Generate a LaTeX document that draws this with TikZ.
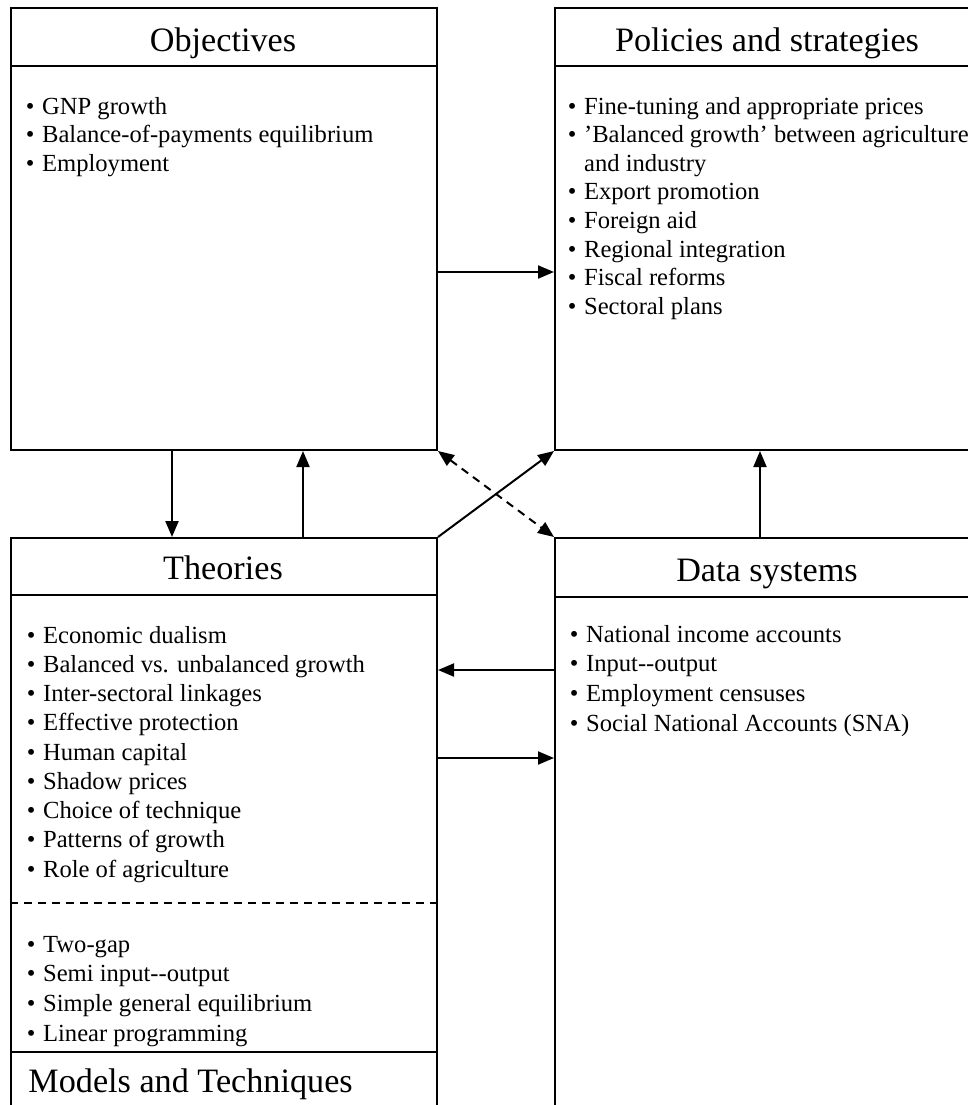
\documentclass[tikz,border=0pt]{standalone}
\usepackage{fontspec}
\setmainfont{Liberation Serif}
\usetikzlibrary{arrows.meta}
\newcommand{\itm}{\makebox[0.66em][l]{\textbullet}}
\tikzset{
  box/.style={draw, line width=1pt, rectangle, inner sep=0pt, anchor=north west},
  heading/.style={font=\fontsize{17.1}{20}\selectfont, inner sep=0pt, anchor=base},
  item/.style={font=\fontsize{12.3}{14.6}\selectfont, inner sep=0pt, anchor=base west},
  sep/.style={line width=1pt},
  link/.style={line width=1pt, -{Triangle[length=8pt,width=6.5pt]}},
}
\begin{document}
\begin{tikzpicture}[x=0.5pt,y=-0.5pt]
	\useasboundingbox (0,0) rectangle (968,1105);
	\clip (0,0) rectangle (968,1105);
	% the four boxes
	\node[box, minimum width=213pt, minimum height=221pt] (obj) at (10,7) {};
	\node[box, minimum width=213pt, minimum height=221pt] (pol) at (554,7) {};
	\node[box, minimum width=213pt, minimum height=332pt] (theo) at (10,537) {};
	\node[box, minimum width=213pt, minimum height=332pt] (data) at (554,537) {};
	\draw[sep] ([yshift=-29.5pt]obj.north west) -- ([yshift=-29.5pt]obj.north east);
	\draw[sep] ([yshift=-29.5pt]pol.north west) -- ([yshift=-29.5pt]pol.north east);
	\draw[sep] ([yshift=-29pt]theo.north west) -- ([yshift=-29pt]theo.north east);
	\draw[sep] ([yshift=-30pt]data.north west) -- ([yshift=-30pt]data.north east);
	\draw[sep, dash pattern=on 4pt off 3pt] ([yshift=-183pt]theo.north west) -- ([yshift=-183pt]theo.north east);
	\draw[sep] ([yshift=-257.5pt]theo.north west) -- ([yshift=-257.5pt]theo.north east);
	% titles
	\node[heading] (objT) at (223,51) {Objectives};
	\node[heading] (polT) at (767,51) {Policies and strategies};
	\node[heading] (theoT) at (223,579) {Theories};
	\node[heading] (dataT) at (767,581) {Data systems};
	\node[heading, anchor=base west] (modT) at (28,1092) {Models and Techniques};
	% lists
	\foreach \t [count=\i] in {\itm GNP growth, \itm Balance-of-payments equilibrium, \itm Employment}
		\node[item] (obj-\i) at (25.5,{114+28.6*(\i-1)}) {\t};
	\foreach \t [count=\i] in {\itm Fine-tuning and appropriate prices, \itm 'Balanced growth' between agriculture,
		\hphantom{\itm}and industry, \itm Export promotion, \itm Foreign aid, \itm Regional integration,
		\itm Fiscal reforms, \itm Sectoral plans}
		\node[item] (pol-\i) at (567.5,{114+28.6*(\i-1)}) {\t};
	\foreach \t [count=\i] in {\itm Economic dualism, \itm Balanced vs. unbalanced growth, \itm Inter-sectoral linkages,
		\itm Effective protection, \itm Human capital, \itm Shadow prices, \itm Choice of technique,
		\itm Patterns of growth, \itm Role of agriculture}
		\node[item] (theo-\i) at (26.5,{643+29.25*(\i-1)}) {\t};
	\foreach \t [count=\i] in {\itm Two-gap, \itm Semi input-{}-output, \itm Simple general equilibrium, \itm Linear programming}
		\node[item] (mod-\i) at (26.5,{952+29.8*(\i-1)}) {\t};
	\foreach \t [count=\i] in {\itm National income accounts, \itm Input-{}-output, \itm Employment censuses,
		\itm Social National Accounts (SNA)}
		\node[item] (data-\i) at (569.5,{642+29.8*(\i-1)}) {\t};
	% links
	\draw[link] ([yshift=-132.5pt]obj.north east) -- ([yshift=-132.5pt]pol.north west);
	\draw[link] ([xshift=81pt]obj.south west) -- ([xshift=81pt]theo.north west);
	\draw[link] ([xshift=146.5pt]theo.north west) -- ([xshift=146.5pt]obj.south west);
	\draw[link] (theo.north east) -- (pol.south west);
	\draw[link, {Triangle[length=8pt,width=6.5pt]}-{Triangle[length=8pt,width=6.5pt]}, dash pattern=on 4pt off 3pt] (obj.south east) -- (data.north west);
	\draw[link] ([xshift=103pt]data.north west) -- ([xshift=103pt]pol.south west);
	\draw[link] ([yshift=-66.5pt]data.north west) -- ([yshift=-66.5pt]theo.north east);
	\draw[link] ([yshift=-110.5pt]theo.north east) -- ([yshift=-110.5pt]data.north west);
\end{tikzpicture}
\end{document}
